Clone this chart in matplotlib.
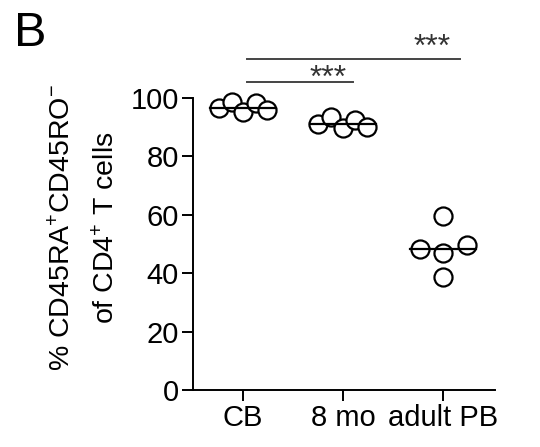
import numpy as np
import matplotlib
matplotlib.use("Agg")
from matplotlib import pyplot as plt

plt.rcParams["font.family"] = ["Liberation Sans", "DejaVu Sans"]
plt.rcParams["mathtext.fontset"] = "custom"
plt.rcParams["mathtext.rm"] = "Liberation Sans"
plt.rcParams["mathtext.it"] = "Liberation Sans"

groups = ["CB", "8 mo", "adult PB"]
cb = [96.5, 98.7, 95.0, 98.2, 95.7]
mo8 = [91.1, 93.4, 89.6, 92.5, 90.2]
adult = [48.3, 59.6, 47.0, 38.6, 49.7]
jitter = [[-0.24, -0.11, 0.0, 0.13, 0.24],
          [-0.25, -0.12, 0.0, 0.12, 0.24],
          [-0.23, 0.0, 0.0, 0.0, 0.24]]
medians = [96.5, 91.1, 48.3]
# comparisons: (x0, x1, y, star x, star y)
sig = [(1.04, 2.1, 105.4, 1.85, 103.6),
       (1.04, 3.17, 113.4, 2.89, 114.3)]


def main():
    fig = plt.figure(figsize=(5.4, 4.47), dpi=100)
    ax = fig.add_axes([0.357, 0.1275, 0.56, 0.6535])

    for i, vals in enumerate([cb, mo8, adult]):
        xs = [i + 1 + j for j in jitter[i]]
        ax.plot(xs, vals, "o", ms=13, mfc="white", mec="black", mew=1.6,
                clip_on=False, zorder=3)
        ax.plot([i + 1 - 0.33, i + 1 + 0.33], [medians[i]] * 2, color="black",
                lw=1.6, zorder=4, clip_on=False)

    for x0, x1, y, sx, sy in sig:
        ax.plot([x0, x1], [y, y], color="#444444", lw=1.4, clip_on=False)
        ax.text(sx, sy, "***", ha="center", va="baseline", fontsize=23,
                color="#333333")

    ax.set_xlim(0.5, 3.52)
    ax.set_ylim(0, 100)
    ax.set_yticks([0, 20, 40, 60, 80, 100])
    ax.set_xticks([1, 2, 3])
    ax.set_xticklabels(groups)
    ax.spines["top"].set_visible(False)
    ax.spines["right"].set_visible(False)
    for s in ["left", "bottom"]:
        ax.spines[s].set_linewidth(1.4)
    ax.tick_params(axis="both", length=8, width=1.4, labelsize=21, pad=2)

    fig.text(0.115, 0.49, "% CD45RA$^{+}$CD45RO$^{-}$", rotation=90,
             ha="center", va="center", fontsize=20.5)
    fig.text(0.197, 0.49, "of CD4$^{+}$ T cells", rotation=90,
             ha="center", va="center", fontsize=20.5)
    fig.text(0.025, 0.975, "B", fontsize=35, ha="left", va="top")

    fig.savefig("out.png", dpi=100)


if __name__ == "__main__":
    main()
